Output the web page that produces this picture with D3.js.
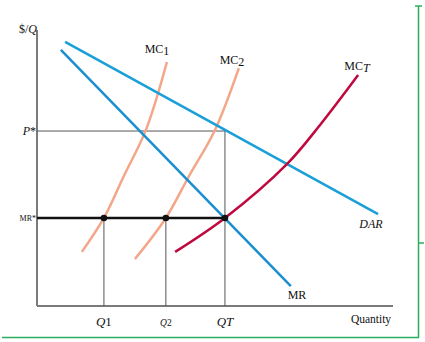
<!DOCTYPE html>
<html><head><meta charset="utf-8">
<script src="https://cdn.jsdelivr.net/npm/d3@7"></script>
<style>body{margin:0;background:#fff}svg{display:block}text{font-family:"Liberation Serif","DejaVu Serif",serif;fill:#111}</style>
</head><body><svg id="c" width="425" height="342"></svg>
<script>
// Data (quantity, price) in chart units 0..100
const darCurve = [[7.9, 95.7], [95.8, 33.3]];
const mrCurve = [[6.7, 92.8], [71.3, 7.2]];
const mc1Curve = [[12.6, 19.6], [18.8, 31.9], [24.4, 47.1], [30.6, 63.8], [36.5, 88.4]];
const mc2Curve = [[27.5, 17.0], [36.2, 31.9], [42.7, 47.1], [50.0, 63.8], [56.7, 86.2]];
const mctCurve = [[38.8, 19.6], [52.8, 31.9], [70.2, 51.4], [79.5, 65.6], [90.2, 83.7]];
const priceStar = 63.4;
const mrStar = 31.9;
const quantities = [18.8, 36.2, 52.8]; // Q1, Q2, QT
const qLabels = [["Q", "1"], ["Q", "2"], ["Q", "T"]];

const svg = d3.select("#c");
const x = d3.scaleLinear().domain([0, 100]).range([37, 393]);
const y = d3.scaleLinear().domain([0, 100]).range([306, 30]);
const line = d3.line().x(d => x(d[0])).y(d => y(d[1]));
const curve = d3.line().x(d => x(d[0])).y(d => y(d[1])).curve(d3.curveCatmullRom);

// green frame
const g = "#2aae5e";
svg.append("path").attr("d", "M2,337.5H418.5V6").attr("fill", "none").attr("stroke", g).attr("stroke-width", 1.5);
svg.append("line").attr("x1", 415).attr("x2", 422).attr("y1", 6).attr("y2", 6).attr("stroke", g).attr("stroke-width", 1.5);
svg.append("line").attr("x1", 418).attr("x2", 424).attr("y1", 243).attr("y2", 243).attr("stroke", g).attr("stroke-width", 1.5);

// axes
const axisColor = "#7a7a7a";
svg.append("line").attr("x1", x(0)).attr("x2", x(0)).attr("y1", y(100)).attr("y2", y(0)).attr("stroke", axisColor).attr("stroke-width", 2);
svg.append("line").attr("x1", x(0)).attr("x2", x(100)).attr("y1", y(0)).attr("y2", y(0)).attr("stroke", axisColor).attr("stroke-width", 2);

// P* guide
const qT = quantities[2];
svg.append("path").attr("d", `M${x(0)},${y(priceStar)}H${x(qT)}V${y(0)}`).attr("fill", "none").attr("stroke", "#555").attr("stroke-width", 1);
// Q guides
quantities.slice(0, 2).forEach(q => {
  svg.append("line").attr("x1", x(q)).attr("x2", x(q)).attr("y1", y(mrStar)).attr("y2", y(0)).attr("stroke", "#555").attr("stroke-width", 1);
});

// curves
svg.append("path").attr("d", curve(mc1Curve)).attr("fill", "none").attr("stroke", "#f4a688").attr("stroke-width", 2.5);
svg.append("path").attr("d", curve(mc2Curve)).attr("fill", "none").attr("stroke", "#f4a688").attr("stroke-width", 2.5);
svg.append("path").attr("d", line(darCurve)).attr("fill", "none").attr("stroke", "#1a9fd8").attr("stroke-width", 2.5);
svg.append("path").attr("d", line(mrCurve)).attr("fill", "none").attr("stroke", "#1a8fd0").attr("stroke-width", 2.5);
svg.append("path").attr("d", curve(mctCurve)).attr("fill", "none").attr("stroke", "#c0083f").attr("stroke-width", 2.5);

// MR* line
svg.append("line").attr("x1", x(0)).attr("x2", x(qT)).attr("y1", y(mrStar)).attr("y2", y(mrStar)).attr("stroke", "#111").attr("stroke-width", 2.5);
quantities.forEach(q => svg.append("circle").attr("cx", x(q)).attr("cy", y(mrStar)).attr("r", 3.3).attr("fill", "#111"));

// labels
function lab(px, py, parts, size, anchor) {
  const t = svg.append("text").attr("x", px).attr("y", py).attr("font-size", size).attr("text-anchor", anchor || "middle");
  parts.forEach(p => {
    const ts = t.append("tspan").text(p[0]);
    if (p[1]) ts.attr("font-style", "italic");
    if (p[2]) ts.attr("font-size", p[2]);
    if (p[3]) ts.attr("dy", p[3]);
  });
  return t;
}
lab(37, 33, [["$/", 0], ["Q", 1]], 12, "end");
lab(36, 135, [["P", 1], ["*", 0]], 12, "end");
lab(36, 221, [["MR*", 0]], 8, "end");
lab(157, 53, [["MC", 0], ["1", 0, 12, 2]], 12);
lab(232, 64, [["MC", 0], ["2", 0, 12, 2]], 12);
lab(357, 70, [["MC", 0], ["T", 1, 12, 2]], 12);
lab(371, 228, [["DAR", 1]], 12);
lab(297, 299, [["MR", 0]], 12);
lab(371, 323, [["Quantity", 0]], 11.5);
quantities.forEach((q, i) => {
  const small = i === 1;
  lab(x(q), 326, [[qLabels[i][0], 1], [qLabels[i][1], i === 2 ? 1 : 0]], small ? 9.5 : 13);
});
</script></body></html>
